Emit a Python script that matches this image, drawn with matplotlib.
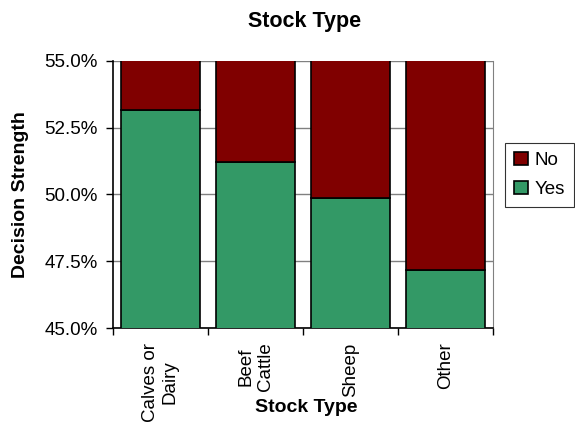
import matplotlib
matplotlib.use("Agg")
import matplotlib.pyplot as plt
from matplotlib.ticker import FuncFormatter
import numpy as np

plt.rcParams['font.family'] = ['Liberation Sans', 'DejaVu Sans']

categories = ['Calves or\nDairy', 'Beef\nCattle', 'Sheep', 'Other']
yes_share = [0.5316, 0.5120, 0.4986, 0.4716]
no_share = [1 - v for v in yes_share]

green = '#339966'
red = '#800000'

fig = plt.figure(figsize=(5.75, 4.28), dpi=100)
ax = fig.add_axes([0.1965, 0.2336, 0.6605, 0.6245])

x = np.arange(len(categories))
ax.bar(x, yes_share, width=0.83, color=green, edgecolor='black', linewidth=1.2,
       label='Yes', zorder=3)
ax.bar(x, no_share, width=0.83, bottom=yes_share, color=red, edgecolor='black',
       linewidth=1.2, label='No', zorder=3)

ax.set_xlim(-0.5, len(categories) - 0.5)
ax.set_ylim(0.45, 0.55)
ax.set_yticks([0.45, 0.475, 0.50, 0.525, 0.55])
ax.yaxis.set_major_formatter(FuncFormatter(lambda v, p: f'{v*100:.1f}%'))
ax.grid(axis='y', color='#808080', linewidth=1.0, zorder=0)

ax.set_xticks(x)
ax.set_xticklabels(categories, rotation=90, fontsize=13.5, va='top', ha='center')
ax.tick_params(axis='x', which='major', length=0, pad=10.5)
ax.set_xticks(np.arange(-0.5, len(categories), 1.0), minor=True)
ax.tick_params(axis='x', which='minor', length=5, width=1.0, color='black')
ax.tick_params(axis='y', length=5, width=1.0, labelsize=13.5, pad=6)

ax.spines['top'].set_visible(False)
ax.spines['right'].set_color('#808080')
ax.spines['left'].set_linewidth(1.2)
ax.spines['bottom'].set_linewidth(1.2)

fig.text(305 / 575, 1 - 21 / 428, 'Stock Type', fontsize=15.5, fontweight='bold',
         ha='center', va='center')
ax.set_ylabel('Decision Strength', fontsize=14, fontweight='bold')
ax.yaxis.set_label_coords(-0.221, 0.5)
ax.set_xlabel('Stock Type', fontsize=14, fontweight='bold')
ax.xaxis.set_label_coords(0.51, -0.266)

h, l = ax.get_legend_handles_labels()
leg = fig.legend(h[::-1], l[::-1], loc='upper right',
                 bbox_to_anchor=(574 / 575, 1 - 143 / 428),
                 fontsize=13.5, frameon=True, fancybox=False, edgecolor='black',
                 handlelength=0.7, handleheight=0.7, handletextpad=0.38,
                 borderpad=0.48, labelspacing=0.62, borderaxespad=0)
leg.get_frame().set_linewidth(0.8)

fig.savefig('out.png', dpi=100)
